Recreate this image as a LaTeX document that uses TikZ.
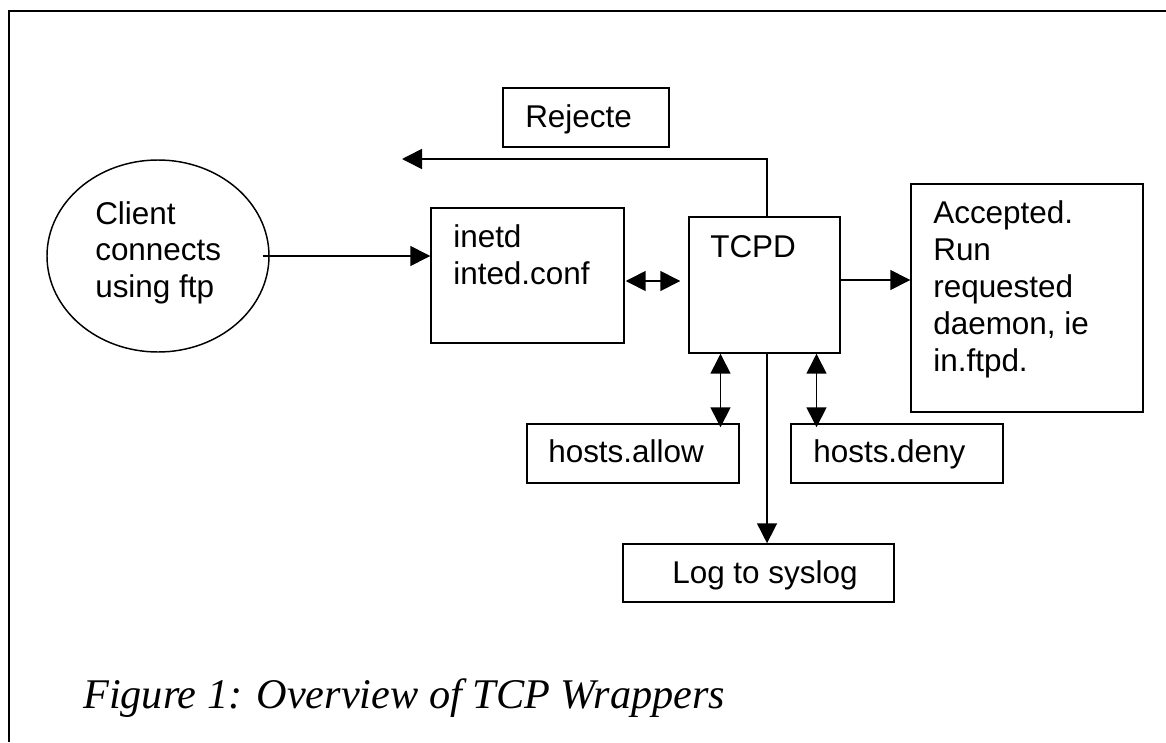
\documentclass[tikz,border=0pt]{standalone}
\usepackage{fontspec}
\setmainfont{Liberation Sans}
\newfontfamily\capfont{Liberation Serif}
\usetikzlibrary{arrows.meta,fit,shapes.geometric}
\tikzset{
  box/.style={draw, line width=1.1pt, inner sep=0pt, rectangle},
  oval/.style={draw, line width=1.1pt, inner sep=0pt, ellipse},
  txt/.style={inner sep=0pt, anchor=base west, align=left, font=\fontsize{23.6}{27.75}\selectfont},
  conn/.style={line width=1.2pt, -{Triangle[length=15pt,width=15pt]}},
  dconn/.style={line width=1.2pt, {Triangle[length=15pt,width=15pt]}-{Triangle[length=15pt,width=15pt]}},
  frame/.style={line width=1.8pt}
}
\begin{document}
\begin{tikzpicture}[x=0.75pt,y=-0.75pt]
\useasboundingbox (0,0) rectangle (1166,742);
% frame
\coordinate (fTR) at (1166,11);
\coordinate (fTL) at (9,11);
\coordinate (fBL) at (9,742);
\draw[frame] (fTR) -- (fTL) -- (fBL);
% shapes
\node[oval, minimum width=166.5pt, minimum height=144pt] (client) at (158,256) {};
\node[box, fit={(431,208) (624,343)}] (inetd) {};
\node[box, fit={(689,217) (840,353)}] (tcpd) {};
\node[box, fit={(503,88) (669,147)}] (rej) {};
\node[box, fit={(911,184) (1143,412)}] (acc) {};
\node[box, fit={(527,424) (739,483)}] (allow) {};
\node[box, fit={(791,424) (1003,483)}] (deny) {};
\node[box, fit={(623,544) (894,602)}] (log) {};
% texts (anchored at the baseline of the last line)
\node[txt, font=\fontsize{23.6}{27.1}\selectfont] (tclient) at (95,297) {Client\\connects\\using ftp};
\node[txt] (tinetd) at (453,284) {inetd\\inted.conf};
\node[txt] (ttcpd) at (710,257) {TCPD};
\node[txt] (trej) at (525,127) {Rejecte};
\node[txt] (tacc) at (933,371) {Accepted.\\Run\\requested\\daemon, ie\\in.ftpd.};
\node[txt] (tallow) at (548,462) {hosts.allow};
\node[txt] (tdeny) at (813,462) {hosts.deny};
\node[txt] (tlog) at (672,583) {Log to syslog};
\node[inner sep=0pt, anchor=base west, font=\capfont\itshape\fontsize{31.7}{36}\selectfont] (cap) at (83,708) {Figure 1: Overview of TCP Wrappers};
% connectors
\coordinate (cs) at ([xshift=-5.25pt]client.east);
\draw[conn] (cs) -- (inetd.west |- cs);
\coordinate (ds) at ([xshift=0.75pt]inetd.east |- 0,281);
\draw[dconn] (ds) -- ([xshift=-6pt]tcpd.west |- ds);
\coordinate (rejEnd) at (402,159);
\draw[conn] ([xshift=1.9pt]tcpd.north) |- (rejEnd);
\coordinate (as) at (tcpd.east |- 0,280);
\draw[conn] (as) -- (acc.west |- as);
\draw[dconn] ([xshift=-33pt]tcpd.south) -- ([xshift=-33pt,yshift=-3pt]tcpd.south |- deny.north);
\draw[dconn] ([xshift=39pt]tcpd.south) -- ([xshift=39pt,yshift=-3pt]tcpd.south |- deny.north);
\draw[conn] ([xshift=1.9pt]tcpd.south) -- ([xshift=1.9pt]tcpd.south |- log.north);
\end{tikzpicture}
\end{document}
